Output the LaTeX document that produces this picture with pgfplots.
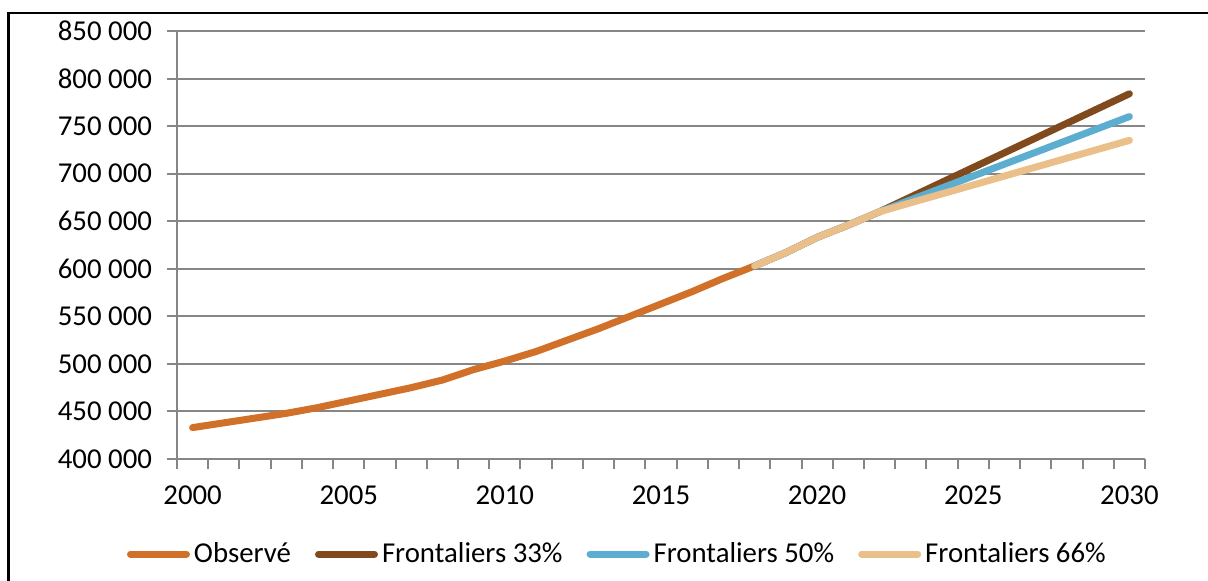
\documentclass[border=0pt]{standalone}
\usepackage{pgfplots}
\pgfplotsset{compat=1.18}
\usepackage{fontspec}
\setmainfont{Carlito}
\definecolor{obs}{RGB}{209,112,40}
\definecolor{fr33}{RGB}{128,74,28}
\definecolor{fr50}{RGB}{91,174,208}
\definecolor{fr66}{RGB}{234,191,137}
\definecolor{gridgray}{RGB}{134,134,134}
\begin{document}
\begin{tikzpicture}[font=\fontsize{14.4}{17}\selectfont]
\useasboundingbox (0,0) rectangle (604pt,290.5pt);
\draw[line width=1.3pt] (4.25pt,-2pt) -- (4.25pt,284pt) -- (606pt,284pt);
\begin{axis}[
  at={(88.5pt,61pt)}, anchor=south west,
  scale only axis, width=484pt, height=214pt,
  xmin=1999.5, xmax=2030.5, ymin=400000, ymax=850000,
  scaled y ticks=false,
  axis x line*=bottom, axis y line*=left,
  axis line style={draw=gridgray, line width=1pt, -},
  xtick={1999.5,2000.5,...,2030.5}, xticklabels={},
  extra x ticks={2000,2005,2010,2015,2020,2025,2030},
  extra x tick labels={2000,2005,2010,2015,2020,2025,2030},
  extra x tick style={major tick length=0pt, grid=none},
  ytick={400000,450000,...,850000},
  yticklabels={400 000,450 000,500 000,550 000,600 000,650 000,700 000,750 000,800 000,850 000},
  ymajorgrids, xmajorgrids=false,
  grid style={gridgray, line width=1pt},
  tick align=outside, major tick length=5pt,
  tick style={gridgray, line width=1pt},
  yticklabel style={anchor=east, xshift=-4pt},
  xticklabel style={anchor=north, yshift=-10pt},
  legend style={at={(axis description cs:0.456,-0.222)}, anchor=center, draw=none, fill=none,
    legend columns=-1, /tikz/every even column/.append style={column sep=10pt},
    font=\fontsize{14.4}{17}\selectfont},
  legend image code/.code={\draw[#1, line width=3.5pt, line cap=round] (0pt,0pt) -- (28pt,0pt);},
  every axis plot/.append style={line width=3.5pt, line cap=round, line join=round},
  clip=false,
]
\addplot[obs] coordinates {
 (2000,433000) (2001,438000) (2002,443000) (2003,448000) (2004,454000)
 (2005,461000) (2006,468000) (2007,475000) (2008,483000) (2009,494000)
 (2010,503000) (2011,513000) (2012,525000) (2013,537000) (2014,550000)
 (2015,563000) (2016,576000) (2017,590000) (2018,603000)};
\addlegendentry{Observé}
\addplot[fr33] coordinates {
 (2018,603000) (2019,617000) (2020,633000) (2021,646000) (2022,660000)
 (2023,675500) (2024,691000) (2025,706500) (2026,722000) (2027,737500)
 (2028,753000) (2029,768500) (2030,784000)};
\addlegendentry{Frontaliers 33\%}
\addplot[fr50] coordinates {
 (2018,603000) (2019,617000) (2020,633000) (2021,646000) (2022,660000)
 (2023,672500) (2024,685000) (2025,697500) (2026,710000) (2027,722500)
 (2028,735000) (2029,747500) (2030,760000)};
\addlegendentry{Frontaliers 50\%}
\addplot[fr66] coordinates {
 (2018,603000) (2019,617000) (2020,633000) (2021,646000) (2022,660000)
 (2023,669400) (2024,678800) (2025,688100) (2026,697500) (2027,706900)
 (2028,716300) (2029,725600) (2030,735000)};
\addlegendentry{Frontaliers 66\%}
\end{axis}
\end{tikzpicture}
\end{document}
